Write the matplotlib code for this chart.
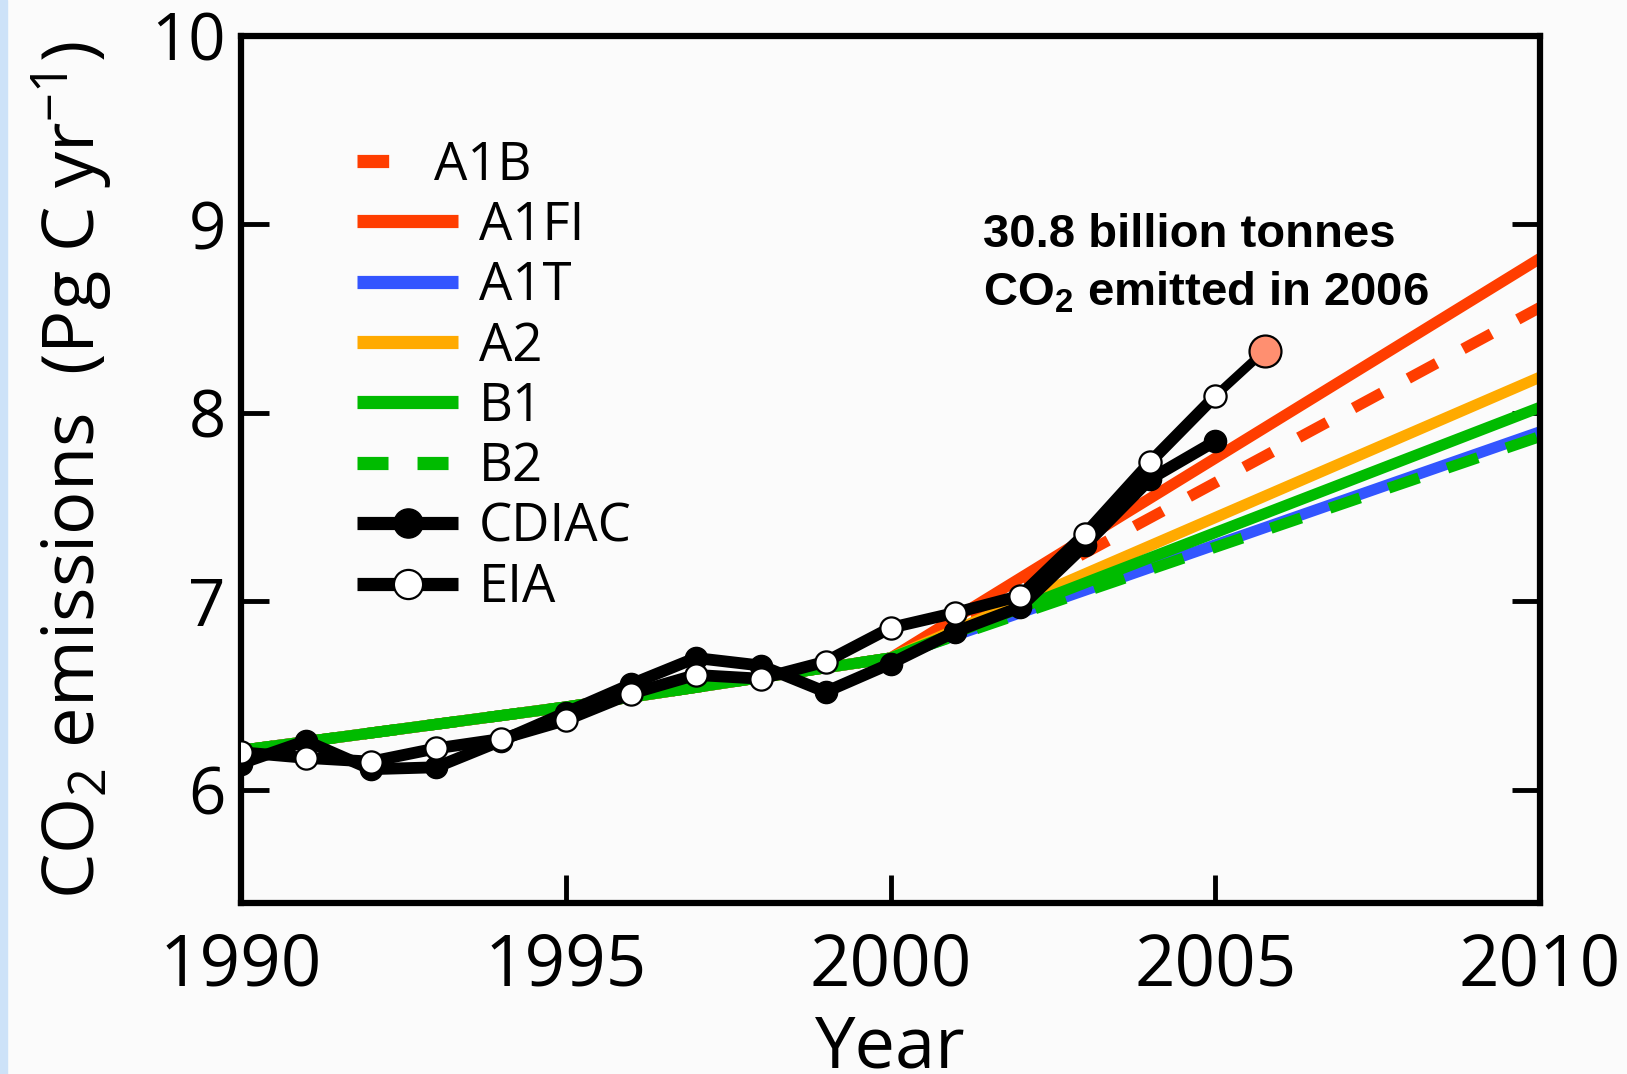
import numpy as np
import matplotlib.pyplot as plt
import matplotlib.transforms as mtransforms
from matplotlib.lines import Line2D
from matplotlib.patches import Rectangle

# fonts: humanist sans for axes, bold arial-like for the note
plt.rcParams['font.family'] = 'Open Sans'
plt.rcParams['mathtext.fontset'] = 'custom'
plt.rcParams['mathtext.rm'] = 'Open Sans'
plt.rcParams['mathtext.it'] = 'Open Sans:italic'
plt.rcParams['mathtext.bf'] = 'Liberation Sans:bold'

# observed fossil fuel emissions (Pg C / yr)
obs_years = np.arange(1990, 2006)
cdiac = [6.14, 6.26, 6.11, 6.12, 6.26, 6.41, 6.56, 6.70, 6.66, 6.52,
         6.67, 6.84, 6.97, 7.30, 7.65, 7.85]
eia = [6.20, 6.17, 6.15, 6.22, 6.27, 6.37, 6.51, 6.61, 6.59, 6.68,
       6.86, 6.94, 7.03, 7.36, 7.74, 8.09]
# 2006 estimate, drawn slightly left of the 2006 mark in the original
year_2006 = 2005.76
eia_2006 = 8.33

# IPCC SRES scenarios
scen_years = [1990, 1995, 2000, 2010]
a1b = [6.21, 6.44, 6.70, 8.56]
a1fi = [6.21, 6.44, 6.70, 8.82]
a1t = [6.21, 6.44, 6.70, 7.90]
a2 = [6.21, 6.44, 6.70, 8.19]
b1 = [6.21, 6.44, 6.70, 8.03]
b2 = [6.21, 6.44, 6.70, 7.875]

xticks = [1990, 1995, 2000, 2005, 2010]
yticks = [6, 7, 8, 9, 10]

red = '#ff3d00'
blue = '#3355ff'
orange = '#ffaa00'
green = '#00bb00'
salmon = '#ff8f70'
bg = '#fbfbfb'

W, H = 1627, 1074
fig = plt.figure(figsize=(W / 100, H / 100), dpi=100, facecolor=bg)
# light blue strip on the left edge
fig.patches.append(Rectangle((0, 0), 7 / W, 1, transform=fig.transFigure,
                             color='#cde2f8', zorder=0))

ax = fig.add_axes([241 / W, 1 - 903 / H, 1299 / W, 867 / H])
ax.set_facecolor(bg)

lw = 8
dash = (2.9, 2.7)
ax.plot(scen_years, a1b, color=red, lw=lw, dashes=dash, zorder=2)
ax.plot(scen_years, a1fi, color=red, lw=lw, solid_capstyle='butt', zorder=2)
ax.plot(scen_years, a1t, color=blue, lw=lw, solid_capstyle='butt', zorder=2)
ax.plot(scen_years, a2, color=orange, lw=lw, solid_capstyle='butt', zorder=2)
ax.plot(scen_years, b1, color=green, lw=lw, solid_capstyle='butt', zorder=2)
ax.plot(scen_years, b2, color=green, lw=lw, dashes=dash, zorder=2)

# observations
olw = 8.5
ax.plot(obs_years, cdiac, color='black', lw=olw, marker='o', ms=16,
        mfc='black', mec='black', zorder=3)
ax.plot([obs_years[-1], year_2006], [eia[-1], eia_2006], color='black',
        lw=6.5, zorder=3)
ax.plot(obs_years, eia, color='black', lw=olw, marker='o', ms=16,
        mfc='white', mec='black', mew=1.6, zorder=4)
ax.plot([year_2006], [eia_2006], marker='o', ms=23, mfc=salmon,
        mec='black', mew=1.6, ls='none', zorder=5)

ax.set_xlim(1990, 2010)
ax.set_ylim(5.4, 10)
ax.set_xticks(xticks)
ax.set_yticks(yticks)
ax.tick_params(direction='in', length=20, width=3.5, right=True, top=False)
ax.tick_params(axis='x', labelsize=51, pad=20)
ax.tick_params(axis='y', labelsize=47, pad=11)
for s in ax.spines.values():
    s.set_linewidth(4.5)

ax.set_xlabel('Year', fontsize=52, labelpad=8)
ax.set_ylabel('CO$_2$ emissions  (Pg C yr$^{-1}$)', fontsize=52)
ax.yaxis.set_label_coords(-0.097, 0.5)

# legend with proxy handles (thicker than plotted lines, like the original)
llw = 9.5
handles = [
    Line2D([], [], color=red, lw=llw, dashes=(2.4, 30)),
    Line2D([], [], color=red, lw=llw, solid_capstyle='butt'),
    Line2D([], [], color=blue, lw=llw, solid_capstyle='butt'),
    Line2D([], [], color=orange, lw=llw, solid_capstyle='butt'),
    Line2D([], [], color=green, lw=llw, solid_capstyle='butt'),
    Line2D([], [], color=green, lw=llw, dashes=(2.35, 2.2)),
    Line2D([], [], color='black', lw=llw, solid_capstyle='butt', marker='o',
           ms=21, mfc='black', mec='black'),
    Line2D([], [], color='black', lw=llw, solid_capstyle='butt', marker='o',
           ms=21, mfc='white', mec='black', mew=1.6),
]
labels = ['A1B', 'A1FI', 'A1T', 'A2', 'B1', 'B2', 'CDIAC', 'EIA']
fs_leg = 38
leg = ax.legend(handles, labels, loc='upper left',
                bbox_to_anchor=(357 / W, 1 - 139 / H),
                bbox_transform=fig.transFigure, frameon=False,
                fontsize=fs_leg, handlelength=101 / (fs_leg * 100 / 72),
                handletextpad=0.4, labelspacing=0.13,
                borderpad=0, borderaxespad=0)
# the A1B label sits further left in the original
t0 = leg.get_texts()[0]
t0.set_transform(t0.get_transform() +
                 mtransforms.Affine2D().translate(-45, 0))

fig.text(983 / W, 1 - 247 / H, '30.8 billion tonnes', family='Liberation Sans',
         fontweight='bold', fontsize=34, va='baseline', ha='left')
fig.text(983 / W, 1 - 305 / H, r'CO$_\mathbf{2}$ emitted in 2006',
         family='Liberation Sans', fontweight='bold', fontsize=34,
         va='baseline', ha='left')

fig.savefig('out.png', dpi=100, facecolor=bg)
